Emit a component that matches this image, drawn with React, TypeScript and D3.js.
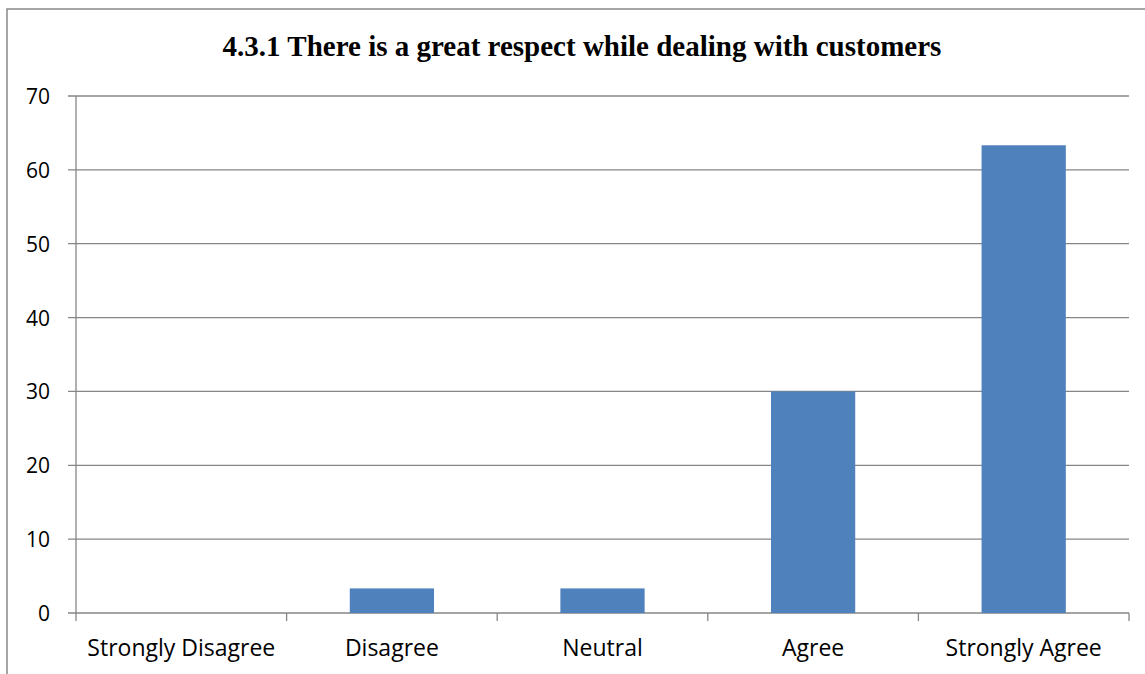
import React from "react";
import * as d3 from "d3";

const categories = ["Strongly Disagree", "Disagree", "Neutral", "Agree", "Strongly Agree"];
const values = [0, 3.33, 3.33, 30, 63.33];
const yTicks = [0, 10, 20, 30, 40, 50, 60, 70];
const title = "4.3.1 There is a great respect while dealing with customers";

export default function App() {
  const W = 1145, H = 674;
  const left = 76, right = 1129, top = 96, bottom = 613;
  const x = d3.scaleBand<string>().domain(categories).range([left, right]).padding(0);
  const y = d3.scaleLinear().domain([0, 70]).range([bottom, top]);
  const bw = x.bandwidth() * 0.4;
  const grid = "#868686";
  const labelFont = "'Open Sans', 'Noto Sans', sans-serif";
  return (
    <svg width={W} height={H} style={{ position: "absolute", left: 0, top: 0 }}>
      <rect x={0} y={0} width={W} height={H} fill="#fff" />
      <rect x={7} y={9} width={W + 20} height={H + 20} fill="none" stroke="#888" strokeWidth={1.5} />
      <text x={582} y={56} textAnchor="middle" fontFamily="'Liberation Serif', 'Times New Roman', serif" fontWeight="bold" fontSize={29} fill="#000">
        {title}
      </text>
      {yTicks.map((t) => (
        <g key={t}>
          <line x1={left - 8} x2={right} y1={y(t)} y2={y(t)} stroke={grid} strokeWidth={1.3} />
          <text x={50} y={y(t) + 8} textAnchor="end" fontFamily={labelFont} fontSize={21} fill="#000">{t}</text>
        </g>
      ))}
      <line x1={left} x2={left} y1={top} y2={bottom + 8} stroke={grid} strokeWidth={1.3} />
      {categories.map((c, i) => (
        <line key={"t" + i} x1={(x(c) as number) + x.bandwidth()} x2={(x(c) as number) + x.bandwidth()} y1={bottom} y2={bottom + 8} stroke={grid} strokeWidth={1.3} />
      ))}
      {categories.map((c, i) => {
        const cx = (x(c) as number) + x.bandwidth() / 2;
        return (
          <g key={c}>
            {values[i] > 0 && (
              <rect x={cx - bw / 2} y={y(values[i])} width={bw} height={bottom - y(values[i])} fill="#4F81BD" />
            )}
            <text x={cx} y={656} textAnchor="middle" fontFamily={labelFont} fontSize={23} fill="#000">{c}</text>
          </g>
        );
      })}
    </svg>
  );
}
